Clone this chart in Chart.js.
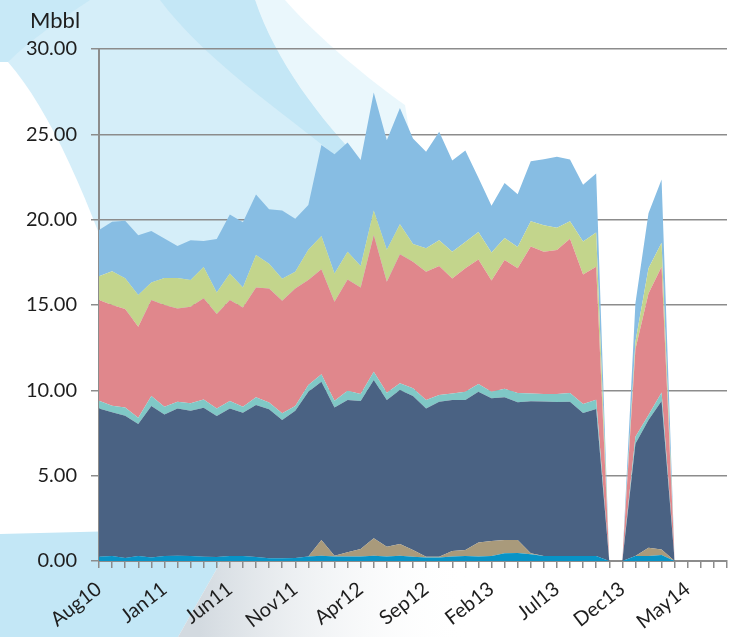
<!DOCTYPE html>
<html>
<head>
<meta charset="utf-8">
<script src="https://cdn.jsdelivr.net/npm/chart.js@4/dist/chart.umd.min.js"></script>
<style>
  html, body { margin: 0; padding: 0; background: #ffffff; }
  #wrap { width: 730px; height: 637px; position: relative; }
</style>
</head>
<body>
<div id="wrap"><canvas id="c" width="730" height="637"></canvas></div>
<script>
// Monthly volumes (Mbbl) by product stream, Aug 2010 onwards
const months = ['Aug10','Sep10','Oct10','Nov10','Dec10','Jan11','Feb11','Mar11','Apr11','May11','Jun11','Jul11',
  'Aug11','Sep11','Oct11','Nov11','Dec11','Jan12','Feb12','Mar12','Apr12','May12','Jun12','Jul12',
  'Aug12','Sep12','Oct12','Nov12','Dec12','Jan13','Feb13','Mar13','Apr13','May13','Jun13','Jul13',
  'Aug13','Sep13','Oct13','Nov13','Dec13','Jan14','Feb14','Mar14','Apr14','May14','Jun14','Jul14','Aug14'];

const streamA = [0.25,0.29,0.18,0.29,0.21,0.29,0.31,0.29,0.25,0.23,0.29,0.29,0.23,0.16,0.16,0.18,0.27,0.31,0.27,0.27,0.27,0.31,0.27,0.31,0.25,0.21,0.21,0.27,0.29,0.27,0.29,0.45,0.47,0.39,0.29,0.29,0.29,0.29,0.29,0,0,0.29,0.29,0.35,0];
const streamB = [0,0,0,0,0,0,0,0,0,0,0,0,0,0,0,0,0,0.92,0.04,0.24,0.43,1.02,0.57,0.69,0.39,0.04,0.04,0.32,0.35,0.82,0.88,0.78,0.76,0.06,0,0,0,0,0,0,0,0,0.49,0.33,0];
const streamC = [8.69,8.42,8.33,7.74,8.87,8.30,8.63,8.51,8.73,8.26,8.65,8.40,8.91,8.73,8.10,8.62,9.65,9.27,8.69,8.92,8.67,9.27,8.59,9.02,9.03,8.69,9.08,8.84,8.79,8.83,8.36,8.36,8.07,8.91,9.06,9.03,9.04,8.38,8.62,0,0,6.58,7.48,8.70,0];
const streamD = [0.45,0.39,0.49,0.37,0.59,0.45,0.39,0.44,0.49,0.45,0.44,0.35,0.45,0.39,0.39,0.28,0.39,0.44,0.39,0.55,0.41,0.49,0.43,0.39,0.45,0.49,0.39,0.39,0.49,0.45,0.39,0.51,0.54,0.46,0.43,0.46,0.51,0.53,0.54,0,0,0.41,0.29,0.49,0];
const streamE = [5.90,5.90,5.76,5.33,5.62,5.96,5.47,5.66,5.92,5.53,5.91,5.82,6.44,6.69,6.60,6.89,6.15,6.15,5.80,6.52,6.25,8.01,6.50,7.57,7.42,7.52,7.56,6.74,7.23,7.30,6.52,7.53,7.31,8.61,8.34,8.44,9.04,7.58,7.79,0,0,5.12,7.13,7.37,0];
const streamF = [1.39,1.98,1.81,1.85,1.03,1.58,1.78,1.56,1.83,1.26,1.56,1.17,1.90,1.45,1.29,0.98,1.78,1.95,1.66,1.62,1.25,1.43,1.88,1.75,1.04,1.37,1.51,1.56,1.54,1.61,1.63,1.29,1.25,1.48,1.56,1.30,1.03,1.94,2.01,0,0,0.45,1.47,1.41,0];
const streamG = [2.71,2.90,3.37,3.50,3.01,2.32,1.87,2.33,1.53,3.13,3.45,3.82,3.54,3.19,4.00,3.11,2.62,5.33,6.99,6.40,6.22,6.92,6.42,6.81,6.18,5.66,6.36,5.35,5.37,3.17,2.74,3.23,3.09,3.51,3.86,4.17,3.62,3.33,3.46,0,0,2.25,3.22,3.71,0];

const yTicks = [0, 5, 10, 15, 20, 25, 30];

const FONT = 'Lato, "Open Sans", sans-serif';
const GRID = '#8c8c8c';

// decorative swirl behind the plot
const backdrop = {
  id: 'backdrop',
  beforeDraw(chart) {
    const ctx = chart.ctx;
    ctx.save();
    ctx.fillStyle = '#ffffff';
    ctx.fillRect(0, 0, chart.width, chart.height);

    // broad pale swoosh from the top left
    ctx.fillStyle = '#d5eef9';
    ctx.beginPath();
    ctx.moveTo(0, 0);
    ctx.lineTo(255, 0);
    ctx.bezierCurveTo(275, 60, 320, 120, 365, 165);
    ctx.lineTo(440, 320);
    ctx.lineTo(130, 320);
    ctx.bezierCurveTo(90, 200, 50, 110, 8, 62);
    ctx.lineTo(0, 62);
    ctx.closePath();
    ctx.fill();

    // slightly stronger band along its outer rim
    ctx.fillStyle = '#c4e7f6';
    ctx.beginPath();
    ctx.moveTo(160, 0);
    ctx.lineTo(255, 0);
    ctx.bezierCurveTo(275, 60, 320, 120, 365, 165);
    ctx.lineTo(440, 320);
    ctx.lineTo(410, 320);
    ctx.lineTo(335, 155);
    ctx.bezierCurveTo(280, 110, 205, 60, 160, 0);
    ctx.closePath();
    ctx.fill();

    // faint halo beyond the rim
    ctx.fillStyle = 'rgba(196,231,246,0.35)';
    ctx.beginPath();
    ctx.moveTo(255, 0);
    ctx.lineTo(285, 0);
    ctx.bezierCurveTo(320, 40, 370, 80, 405, 105);
    ctx.lineTo(440, 320);
    ctx.lineTo(365, 165);
    ctx.bezierCurveTo(320, 120, 275, 60, 255, 0);
    ctx.closePath();
    ctx.fill();

    // top-left corner
    ctx.fillStyle = '#c8e9f7';
    ctx.beginPath();
    ctx.moveTo(0, 0);
    ctx.lineTo(90, 0);
    ctx.bezierCurveTo(60, 20, 30, 40, 8, 62);
    ctx.lineTo(0, 62);
    ctx.closePath();
    ctx.fill();

    // pale band along the bottom left
    ctx.fillStyle = '#c3e7f6';
    ctx.beginPath();
    ctx.moveTo(0, 534);
    ctx.lineTo(240, 528);
    ctx.lineTo(178, 637);
    ctx.lineTo(0, 637);
    ctx.closePath();
    ctx.fill();

    // grey sweep to the right of it
    const g = ctx.createLinearGradient(200, 0, 470, 0);
    g.addColorStop(0, '#d3dae0');
    g.addColorStop(1, 'rgba(255,255,255,0)');
    ctx.fillStyle = g;
    ctx.beginPath();
    ctx.moveTo(240, 528);
    ctx.lineTo(480, 528);
    ctx.lineTo(480, 637);
    ctx.lineTo(178, 637);
    ctx.closePath();
    ctx.fill();
    ctx.restore();
  },
  afterDraw(chart) {
    const ctx = chart.ctx;
    ctx.save();
    ctx.fillStyle = '#1e1e1e';
    ctx.font = '22px ' + FONT;
    ctx.textAlign = 'left';
    ctx.textBaseline = 'alphabetic';
    ctx.fillText('Mbbl', 30, 28);
    ctx.restore();
  }
};

function layer(label, data, color, fill) {
  return {
    label, data,
    backgroundColor: color,
    borderColor: color,
    borderWidth: 0,
    pointRadius: 0,
    pointHoverRadius: 0,
    tension: 0,
    fill
  };
}

new Chart(document.getElementById('c'), {
  type: 'line',
  data: {
    labels: months,
    datasets: [
      layer('A', streamA, '#0893c6', 'origin'),
      layer('B', streamB, '#a99a7b', '-1'),
      layer('C', streamC, '#4a6283', '-1'),
      layer('D', streamD, '#80c8c6', '-1'),
      layer('E', streamE, '#e0878c', '-1'),
      layer('F', streamF, '#c3d58c', '-1'),
      layer('G', streamG, '#87bde3', '-1')
    ]
  },
  options: {
    responsive: false,
    animation: false,
    devicePixelRatio: 1,
    layout: { padding: { top: 49, right: 3, left: 0, bottom: 0 } },
    plugins: { legend: { display: false }, tooltip: { enabled: false }, title: { display: false } },
    scales: {
      x: {
        type: 'category',
        offset: false,
        afterFit(scale) { scale.height = 76; scale.paddingLeft = 0; scale.paddingRight = 0; },
        grid: { display: true, drawOnChartArea: false, drawTicks: true, tickLength: 7, color: GRID, lineWidth: 1.5 },
        border: { display: true, color: GRID, width: 2 },
        ticks: {
          autoSkip: false, minRotation: 38, maxRotation: 38, padding: 9,
          color: '#1e1e1e', font: { family: FONT, size: 20 },
          callback(v, i) { return i % 5 === 0 ? months[i] : ''; }
        }
      },
      y: {
        stacked: true,
        min: yTicks[0], max: yTicks[yTicks.length - 1],
        afterFit(scale) { scale.width = 99; scale.paddingTop = 0; scale.paddingBottom = 0; },
        afterBuildTicks(scale) { scale.ticks = yTicks.map(v => ({ value: v })); },
        grid: { color: GRID, lineWidth: 1.5, tickLength: 8, drawTicks: true },
        border: { display: true, color: GRID, width: 2 },
        ticks: {
          padding: 14, color: '#1e1e1e', font: { family: FONT, size: 20 },
          callback(v) { return Number(v).toFixed(2); }
        }
      }
    }
  },
  plugins: [backdrop]
});
</script>
</body>
</html>
